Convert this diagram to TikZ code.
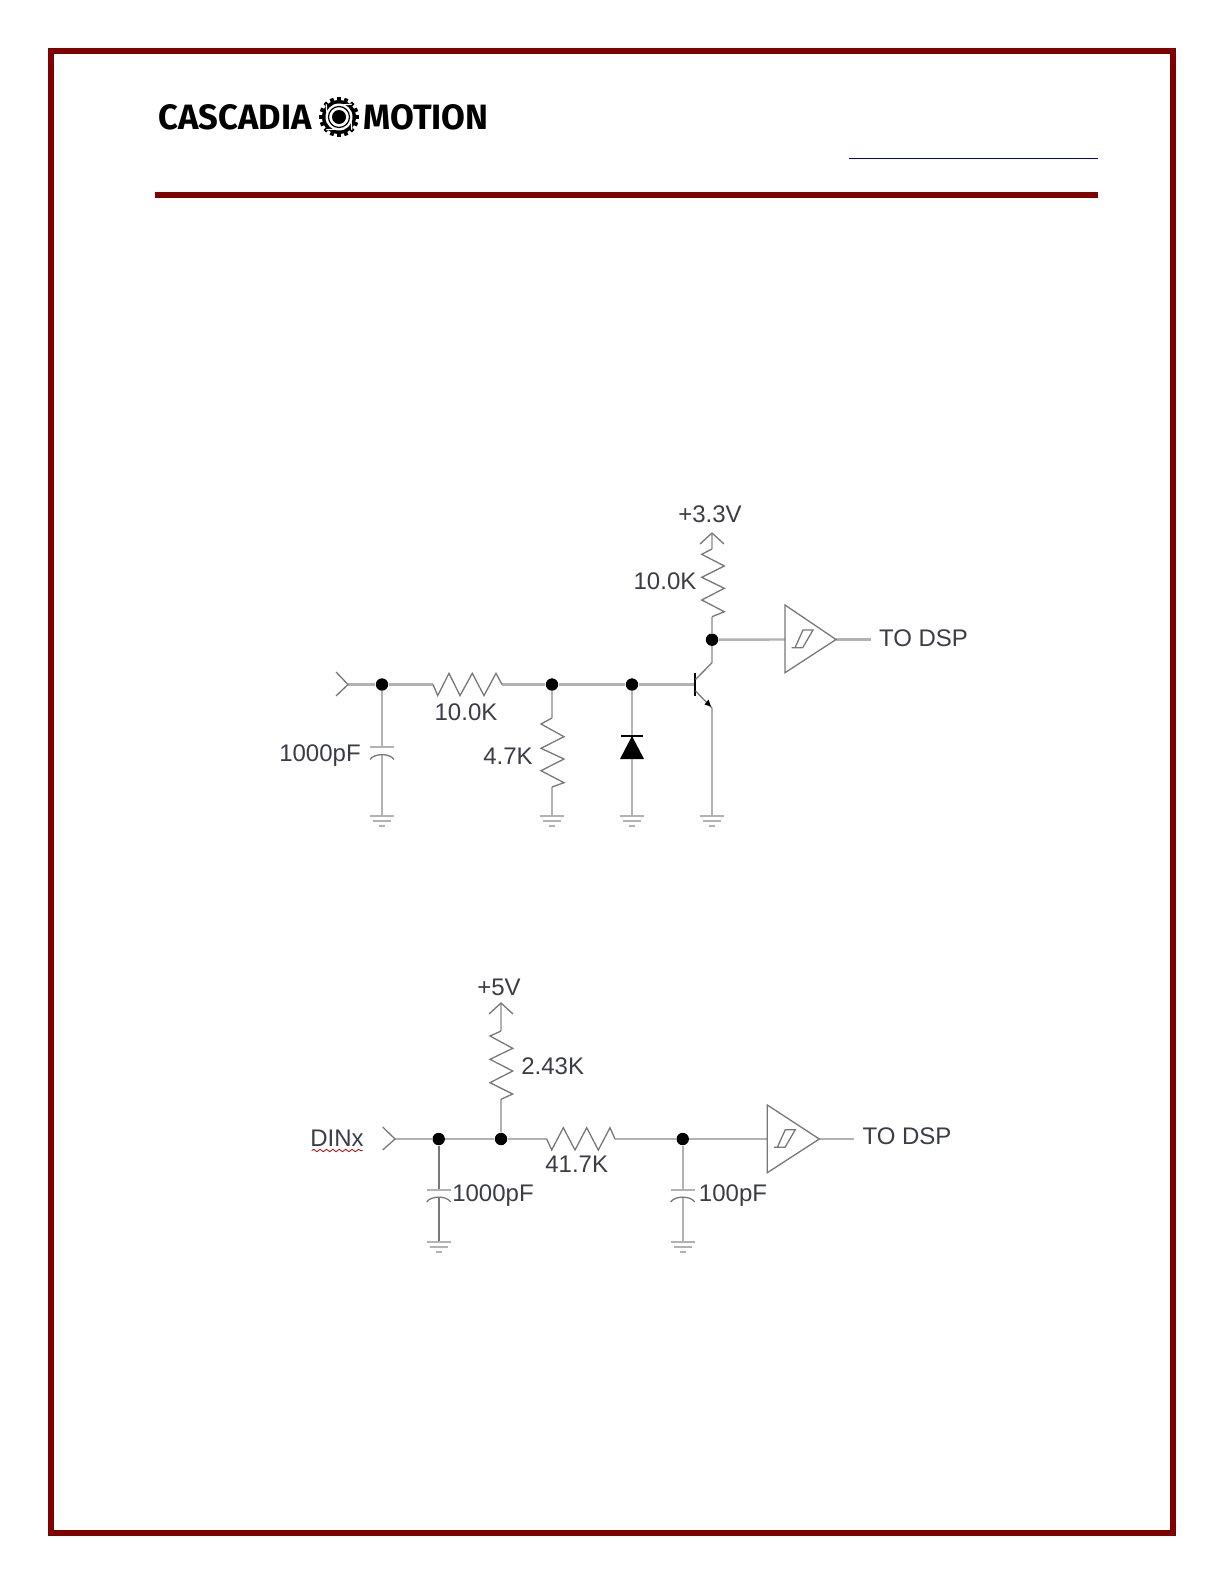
\documentclass[tikz,border=0pt]{standalone}
\usepackage{fontspec}
\setmainfont{Liberation Sans}
\newfontfamily\logofont{Fira Sans}
\usetikzlibrary{decorations.pathmorphing}
\definecolor{framered}{RGB}{128,0,0}
\definecolor{wiregray}{RGB}{178,178,178}
\definecolor{partgray}{RGB}{120,120,120}
\definecolor{labelgray}{RGB}{58,60,72}
\begin{document}
\begin{tikzpicture}[x=0.5pt,y=-0.5pt]

    \tikzset{
      wire/.style={color={wiregray},line width=1.2pt},
      part/.style={color={partgray},line width=0.65pt},
      gndbar/.style={color={wiregray},line width=0.9pt},
      dotnode/.style={circle,fill=black,inner sep=0pt,minimum size=6.2pt},
      label/.style={color={labelgray},font=\fontsize{12}{14}\selectfont,inner sep=0pt,anchor=center},
      logo/.style={color=black,font=\logofont\bfseries\fontsize{17.6}{20}\selectfont,inner sep=0pt,anchor=center,xscale=0.98},
    }
    \useasboundingbox (0,0) rectangle (1224,1584);
	\fill[white] (0,0) rectangle (1224,1584);

	% page frame and header
	\draw[color={framered},line width=3pt] (51,51.5)--(1173,51.5)--(1173,1533)--(51,1533)--cycle;
	\draw[color={framered},line width=3pt] (155,195)--(1098,195);
	\draw[color={blue!70!black},line width=0.7pt] (849,158.3)--(1098,158.3);

	\node[logo] (cascadia) at (235,117) {CASCADIA};
	\node[logo] (motion) at (426,117) {MOTION};
	\fill[black] (339,117) circle (17);
	\foreach \a in {0,22.5,...,337.5} {
	  \draw[black,line width=1.9pt] (339,117)+(\a:15)--+(\a:20);
	}
	\fill[white] (339,117) circle (13.5);
	\draw[black,line width=0.6pt] (339,117) circle (10.5);
	\fill[black] (339,117) circle (7);
	\foreach \a in {20,110,200,290} {
	  \draw[white,line width=0.6pt] (339,117)+(\a:13)--+(\a+25:18);
	}

	% first circuit
	\node[dotnode] (j1) at (382,684.5) {};
	\node[dotnode] (j2) at (552,684.5) {};
	\node[dotnode] (j3) at (632,684.5) {};
	\node[dotnode] (j4) at (712,639.7) {};
	\coordinate (in1) at (348,684.5);
	\coordinate (r1a) at (433,684.5);
	\coordinate (r1b) at (502,684.5);
	\coordinate (r2a) at (552,718);
	\coordinate (r2b) at (552,787);
	\coordinate (g1) at (382,815.7);
	\coordinate (g2) at (552,815.7);
	\coordinate (g3) at (632,815.7);
	\coordinate (g4) at (712,815.7);
	\coordinate (c1a) at (382,747);
	\coordinate (c1b) at (382,754.5);
	\coordinate (d1a) at (632,736);
	\coordinate (d1b) at (632,759);
	\coordinate (pull1) at (712,533);
	\coordinate (r3a) at (712,549);
	\coordinate (r3b) at (712,616.7);
	\coordinate (qb) at (694.7,684.5);
	\coordinate (qc) at (712,662.7);
	\coordinate (qe) at (712,708);
	\coordinate (buf1in) at (785,639.5);
	\coordinate (buf1out) at (836,639.5);
	\coordinate (out1) at (871,639.5);

	\draw[wire] (in1)--(j1);
	\draw[wire] (j1)--(r1a);
	\draw[wire] (r1b)--(j2);
	\draw[wire] (j2)--(j3);
	\draw[wire] (j3)--(qb);
	\draw[wire] (j1)--(c1a);
	\draw[wire] (c1b)--(g1);
	\draw[wire] (j2)--(r2a);
	\draw[wire] (r2b)--(g2);
	\draw[wire] (j3)--(d1a);
	\draw[wire] (d1b)--(g3);
	\draw[wire] (pull1)--(r3a);
	\draw[wire] (r3b)--(j4);
	\draw[wire] (j4)--(qc);
	\draw[wire] (qe)--(g4);
	\draw[wire] (j4)--(buf1in);
	\draw[wire] (buf1out)--(out1);

	\draw[part] (336,672)--(in1)--(336,696);
	\draw[part] (r1a)--(437.7,695.6)--(449,673.3)--(460,695.6)--(472.3,673.3)--(484,695.6)--(496,673.3)--(r1b);
	\draw[part] (r2a)--(541,724)--(564,736.7)--(541,748.3)--(564,759)--(541,770.7)--(564,782.7)--(r2b);
	\draw[part] (700,544)--(pull1)--(724,544);
	\draw[part] (r3a)--(701.7,554.3)--(724.3,566)--(701.7,577.3)--(724.3,588.3)--(701.7,600)--(724.3,611.7)--(r3b);

	% capacitor, diode and transistor
	\draw[gndbar] (370,747)--(394,747);
	\draw[part] (370,759.5) .. controls (374,753) and (390,753) .. (394,759.5);
	\draw[black,line width=0.7pt] (621,736)--(643,736);
	\fill[black] (632,736)--(644,759)--(620,759)--cycle;
	\draw[black,line width=0.8pt] (694.7,673)--(694.7,696);
	\draw[part] (695.5,679.5)--(qc);
	\draw[part] (695.5,691)--(qe);
	\fill[black] (711,706.5)--(704.5,704.5)--(708.5,699.5)--cycle;

	% schmitt buffer
	\draw[part] (785,605)--(836,639.5)--(785,672.7)--cycle;
	\draw[part] (791.7,647.7)--(802.7,647.7)--(813,630)--(803,630)--(795,647.7);

	% grounds
	\draw[gndbar] (370,815.7)--(394,815.7) (373,820.7)--(391,820.7) (379,825.7)--(385,825.7);
	\draw[gndbar] (540,815.7)--(564,815.7) (543,820.7)--(561,820.7) (549,825.7)--(555,825.7);
	\draw[gndbar] (620,815.7)--(644,815.7) (623,820.7)--(641,820.7) (629,825.7)--(635,825.7);
	\draw[gndbar] (700,815.7)--(724,815.7) (703,820.7)--(721,820.7) (709,825.7)--(715,825.7);

	\node[label] (l33v) at (710,514) {+3.3V};
	\node[label] (lr3) at (665,581.7) {10.0K};
	\node[label] (lout1) at (923.5,638) {TO DSP};
	\node[label] (lr1) at (466,712) {10.0K};
	\node[label] (lc1) at (320,756) {1000pF};
	\node[label] (lr2) at (508,756) {4.7K};

	% second circuit
	\node[dotnode] (j5) at (438.7,1139) {};
	\node[dotnode] (j6) at (501,1139) {};
	\node[dotnode] (j7) at (682.7,1139) {};
	\coordinate (in2) at (395,1139);
	\coordinate (r4a) at (546.7,1139);
	\coordinate (r4b) at (615,1139);
	\coordinate (pull2) at (501,1003);
	\coordinate (r5a) at (501,1031);
	\coordinate (r5b) at (501,1099.3);
	\coordinate (c2a) at (438.7,1190);
	\coordinate (c2b) at (438.7,1197);
	\coordinate (c3a) at (682.7,1190);
	\coordinate (c3b) at (682.7,1197);
	\coordinate (g5) at (438.7,1241.7);
	\coordinate (g6) at (682.7,1241.7);
	\coordinate (buf2in) at (767.3,1139);
	\coordinate (buf2out) at (819.3,1139);
	\coordinate (out2) at (854,1139);

	\draw[wire] (in2)--(j5);
	\draw[wire] (j5)--(j6);
	\draw[wire] (j6)--(r4a);
	\draw[wire] (r4b)--(j7);
	\draw[wire] (j7)--(buf2in);
	\draw[wire] (buf2out)--(out2);
	\draw[wire] (pull2)--(r5a);
	\draw[wire] (r5b)--(j6);
	\draw[wire,color={partgray}] (j5)--(c2a);
	\draw[wire,color={partgray}] (c2b)--(g5);
	\draw[wire] (j7)--(c3a);
	\draw[wire] (c3b)--(g6);

	\draw[part] (382.7,1127)--(in2)--(382.7,1150);
	\draw[part] (r4a)--(551.7,1150)--(563.3,1127.7)--(575,1150)--(586.7,1127.7)--(598.3,1150)--(610,1127.7)--(r4b);
	\draw[part] (489,1014)--(pull2)--(513,1014);
	\draw[part] (r5a)--(490,1036)--(512.7,1048.3)--(490,1059.3)--(512.7,1071)--(490,1082.7)--(512.7,1094)--(r5b);

	\draw[gndbar] (426.7,1190)--(450.7,1190);
	\draw[part] (426.7,1202) .. controls (430.7,1195.5) and (446.7,1195.5) .. (450.7,1202);
	\draw[gndbar] (670.7,1190)--(694.7,1190);
	\draw[part] (670.7,1202) .. controls (674.7,1195.5) and (690.7,1195.5) .. (694.7,1202);

	\draw[part] (767.3,1105)--(819.3,1139)--(767.3,1172.7)--cycle;
	\draw[part] (774,1147.3)--(785,1147.3)--(795.3,1129.7)--(785.3,1129.7)--(777.3,1147.3);

	\draw[gndbar] (426.7,1241.7)--(450.7,1241.7) (429.7,1246.7)--(447.7,1246.7) (435.7,1251.7)--(441.7,1251.7);
	\draw[gndbar] (670.7,1241.7)--(694.7,1241.7) (673.7,1246.7)--(691.7,1246.7) (679.7,1251.7)--(685.7,1251.7);

	\node[label] (l5v) at (499,987) {+5V};
	\node[label] (lr5) at (552.7,1066.7) {2.43K};
	\node[label] (ldin) at (337,1138) {DINx};
	\draw[color={red!75!black},line width=0.4pt,decorate,decoration={snake,segment length=3.2pt,amplitude=0.6pt}] (311.7,1150.5)--(362.7,1150.5);
	\node[label] (lr4) at (576.7,1164) {41.7K};
	\node[label] (lc2) at (493,1196) {1000pF};
	\node[label] (lc3) at (733,1196) {100pF};
	\node[label] (lout2) at (907,1136) {TO DSP};

\end{tikzpicture}
\end{document}
